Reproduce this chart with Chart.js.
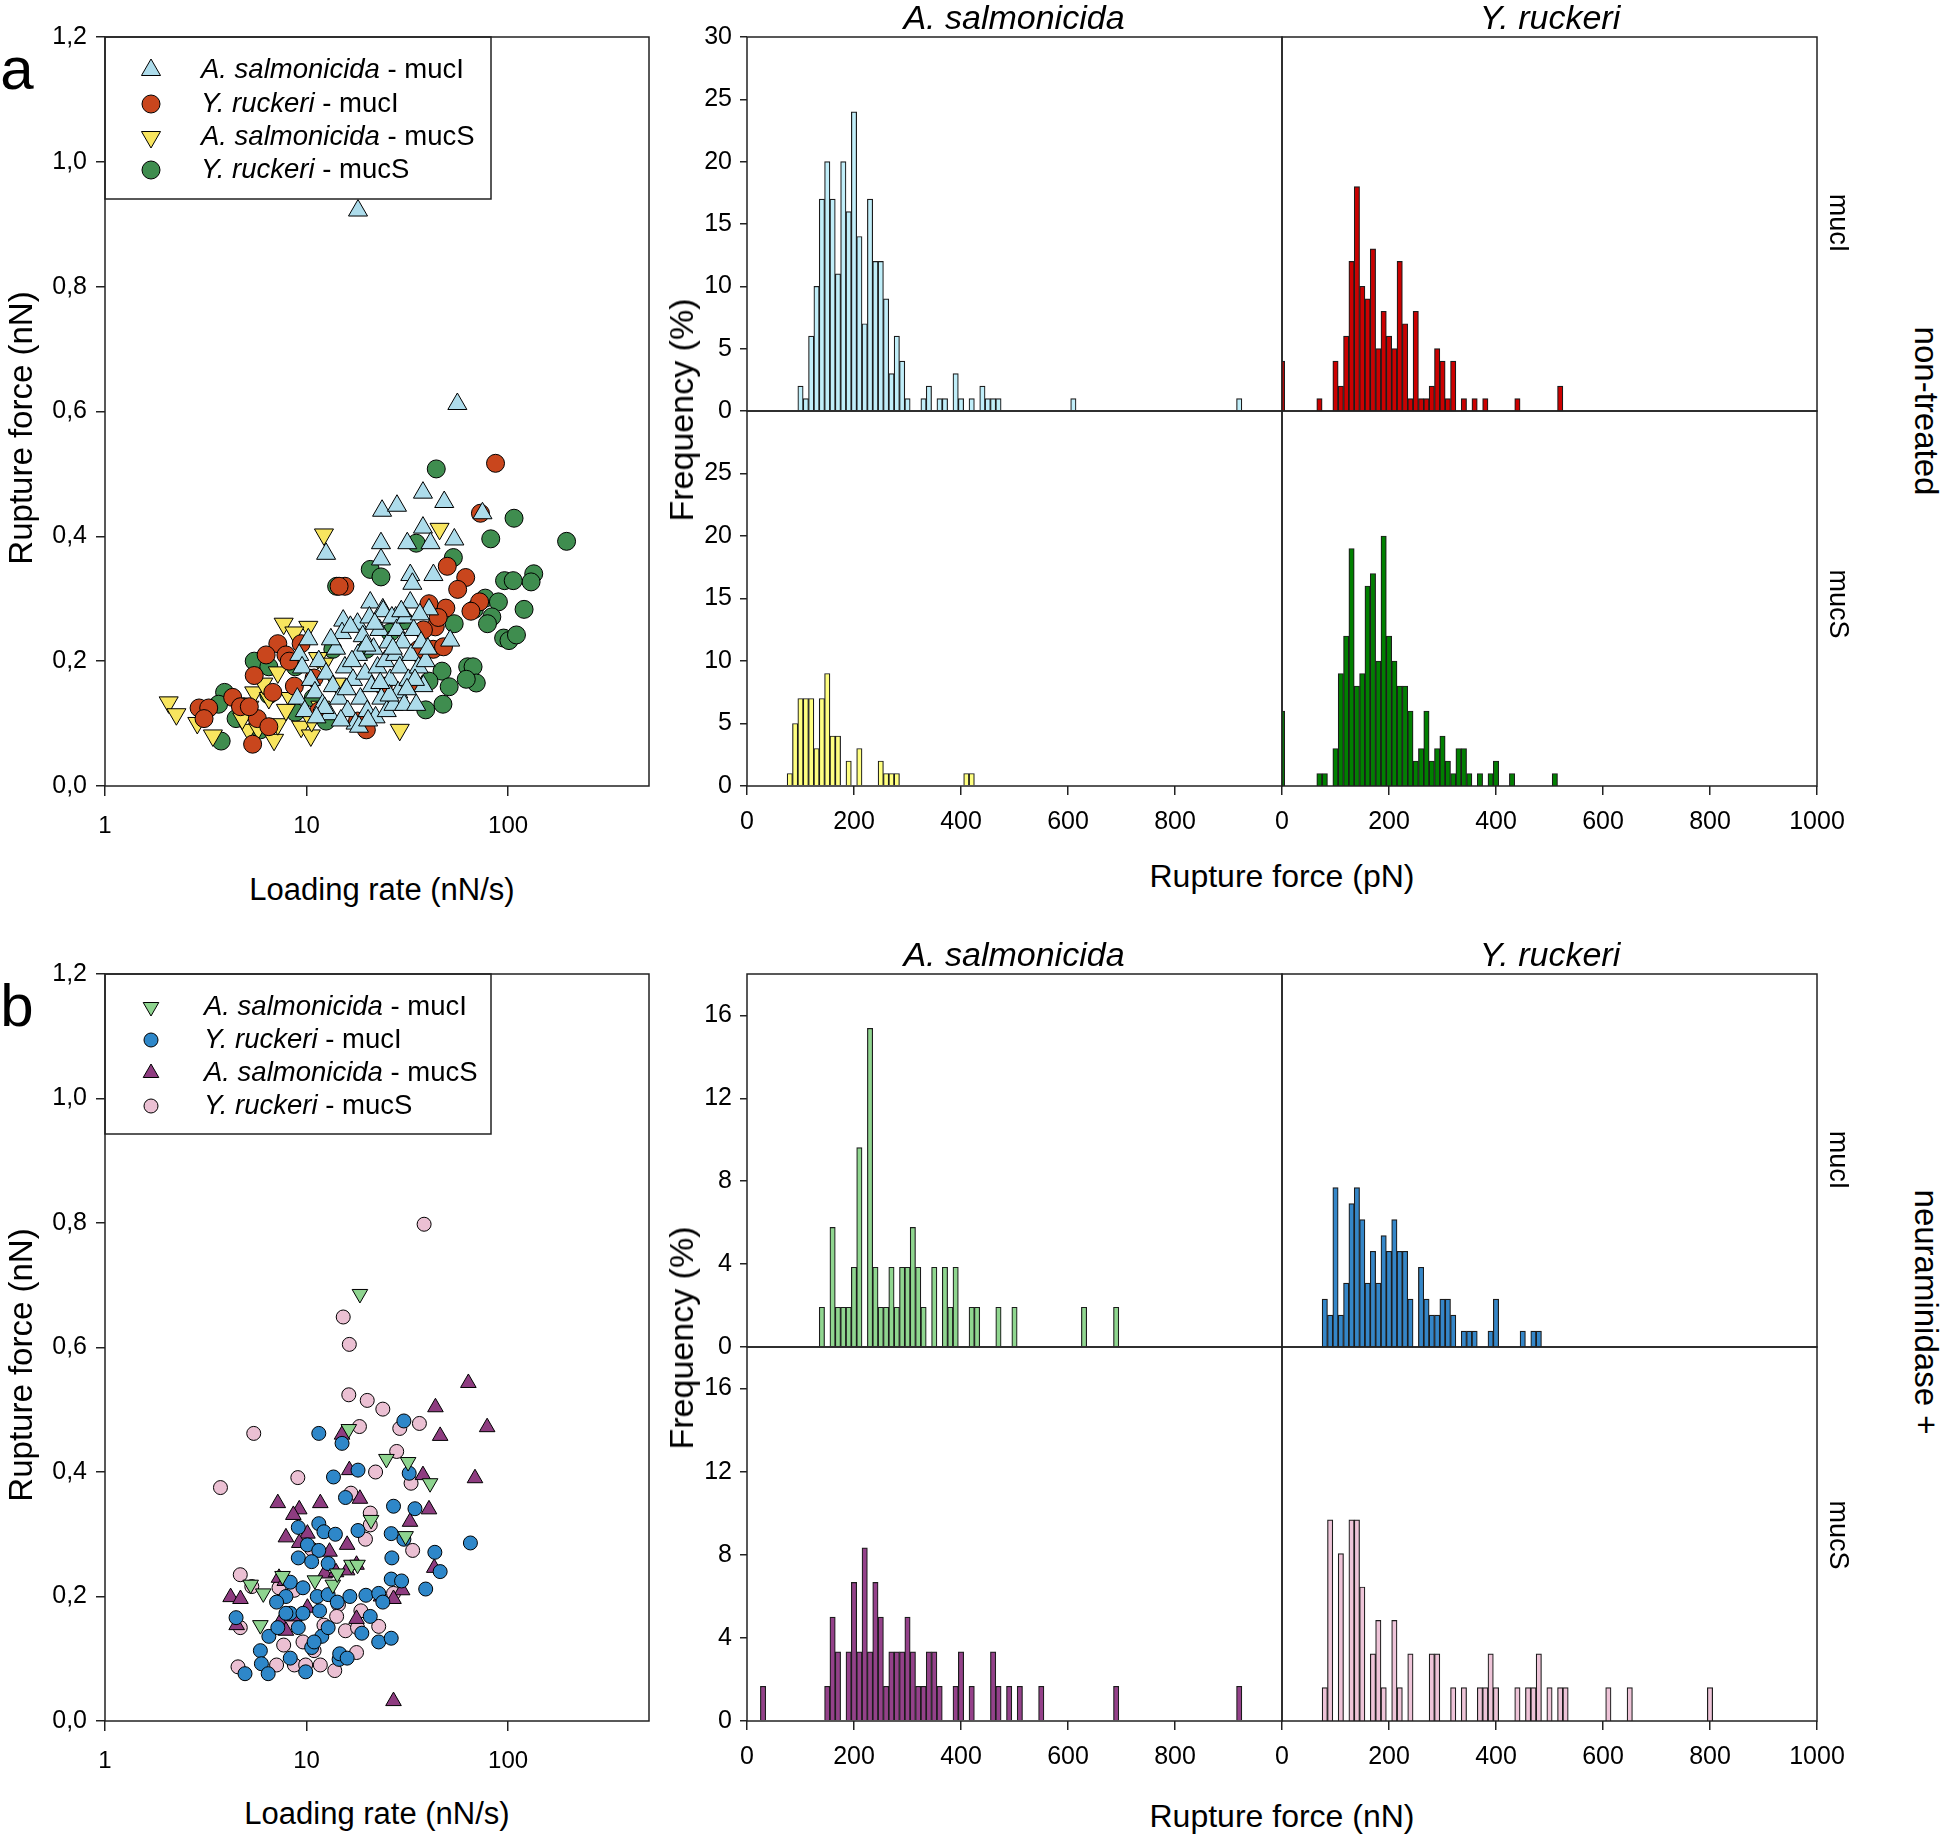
<!DOCTYPE html>
<html>
<head>
<meta charset="utf-8">
<script src="https://cdn.jsdelivr.net/npm/chart.js@4.4.1/dist/chart.umd.min.js"></script>
<style>
html, body { margin: 0; padding: 0; background: #fff; }
#fig { position: relative; width: 1946px; height: 1835px; background: #fff; overflow: hidden;
       font-family: "Liberation Sans", Arial, sans-serif; color: #000; }
#fig canvas { position: absolute; }
.t { position: absolute; white-space: nowrap; line-height: 1; transform: translate(-50%, -50%); }
.up { transform: translate(-50%, -50%) rotate(-90deg); }
.down { transform: translate(-50%, -50%) rotate(90deg); }
</style>
</head>
<body>
<div id="fig"></div>
<script>
// ---- scatter data, panel a (loading rate nN/s, rupture force nN) ----
const scA_asMucI = [[18.0,0.922],[56,0.612],[37.8,0.47],[48.2,0.455],[23.7,0.441],[28.1,0.449],[74.6,0.437],[37.8,0.414],
  [54.1,0.395],[31.6,0.389],[41.2,0.389],[23.4,0.389],[12.5,0.372],[23.4,0.363],[32.7,0.338],[42.6,0.338],[33.5,0.324],
  [20.7,0.294],[32.7,0.294],[40.5,0.283],[15.2,0.265],[23.9,0.283],[17.9,0.26],[27.7,0.27],[51.6,0.233],
  [9.2,0.21],[9.5,0.19],[9.0,0.14],[9.8,0.12],[10.5,0.17],[11,0.15],[11.5,0.2],[12,0.13],[12.5,0.18],[13,0.115],
  [13.5,0.16],[14,0.22],[14.5,0.14],[15,0.245],[15.5,0.19],[16,0.12],[16.5,0.255],[17,0.17],[17.5,0.1],[18,0.21],
  [18.5,0.14],[19,0.24],[19.5,0.18],[20,0.12],[20.5,0.27],[21,0.16],[21.5,0.22],[22,0.11],[22.5,0.19],[23,0.25],
  [23.5,0.14],[24,0.28],[24.5,0.2],[25,0.12],[25.5,0.23],[26,0.17],[26.5,0.27],[27,0.13],[27.5,0.21],[28,0.25],
  [28.5,0.15],[29,0.19],[30,0.23],[30.5,0.13],[31,0.27],[32,0.17],[33,0.21],[34,0.25],[35,0.13],[36,0.19],[37,0.23],
  [38,0.16],[39,0.2],[40,0.22],[18.2,0.095],[14.8,0.105],[12.3,0.125],[11.2,0.11],[16.8,0.2],[19.8,0.225],[21.8,0.26],
  [25.8,0.145],[29.5,0.28],[34.5,0.17],[13.2,0.235],[15.8,0.155],[20.2,0.105],[23.2,0.165],[26.8,0.22],[31.5,0.155],
  [36.5,0.275],[10.2,0.235]];
const scA_yrMucI = [[86.6,0.517],[72.9,0.437],[49.9,0.352],[61.6,0.334],[56.2,0.315],[15.5,0.32],[72.2,0.295],[65.4,0.28],
  [49.1,0.285],[40.5,0.292],[43.5,0.255],[42.5,0.219],[47.8,0.223],[7.2,0.228],[7.9,0.21],[9.4,0.228],[6.3,0.21],
  [5.5,0.177],[4.3,0.142],[4.7,0.127],[2.93,0.125],[3.27,0.125],[3.1,0.108],[5.4,0.067],[5.7,0.108],[8.7,0.16],
  [10.9,0.173],[17.9,0.104],[19.8,0.09],[36,0.219],[33.5,0.164],[5.2,0.127],[6.5,0.095],[14.5,0.32],[38,0.25],
  [45,0.27],[8.2,0.2],[6.8,0.15],[11.5,0.12],[24,0.16]];
const scA_asMucS = [[12.2,0.403],[45.7,0.412],[7.7,0.26],[10.2,0.255],[8.7,0.246],[2.07,0.134],[2.26,0.115],[2.87,0.101],
  [3.43,0.081],[5.15,0.09],[5.75,0.092],[5.5,0.15],[6.9,0.074],[7.2,0.182],[7.2,0.099],[8.3,0.141],[6.5,0.141],
  [9.4,0.095],[10.5,0.081],[11.4,0.205],[10.6,0.104],[29,0.09],[14.1,0.164],[6.1,0.164],[5.2,0.127],[7.9,0.122],
  [12.2,0.196],[11.7,0.127],[4.8,0.108]];
const scA_yrMucS = [[44,0.508],[107,0.429],[195,0.392],[82,0.396],[35,0.389],[53.5,0.366],[20.7,0.347],[23.4,0.335],
  [14.1,0.32],[134,0.34],[130,0.327],[96,0.329],[106,0.329],[77,0.301],[89.5,0.295],[83,0.271],[79,0.26],[120,0.283],
  [95,0.237],[101,0.233],[110,0.242],[68,0.283],[54,0.26],[47,0.184],[63,0.191],[67,0.191],[69.5,0.165],[62,0.171],
  [51,0.159],[47.5,0.131],[39,0.122],[40.5,0.168],[3.92,0.15],[3.77,0.072],[3.66,0.131],[5.5,0.2],[6.5,0.191],
  [4.47,0.108],[5.9,0.09],[4.9,0.127],[8.8,0.118],[12.5,0.104],[6.5,0.146],[8.8,0.191],[13.5,0.219],[10.8,0.141],
  [30.5,0.265],[37,0.21],[26,0.246],[19.8,0.219]];

// ---- scatter data, panel b ----
const scB_asMucI = [[18.4,0.686],[16.2,0.469],[24.9,0.421],[31.9,0.416],[41,0.382],[20.9,0.323],[31,0.297],[5.28,0.219],
  [6.1,0.205],[5.9,0.154],[7.6,0.233],[11,0.226],[13.5,0.219],[16.7,0.251],[17.9,0.251],[14.2,0.237]];
const scB_yrMucI = [[11.5,0.462],[15,0.446],[30.4,0.482],[13.6,0.392],[18,0.403],[15.6,0.359],[18,0.306],[27,0.345],
  [34.5,0.341],[32.3,0.398],[65,0.286],[43.3,0.271],[46,0.24],[39,0.212],[26.3,0.301],[26.5,0.262],[30.4,0.292],
  [9.1,0.311],[11.5,0.317],[12.2,0.304],[13.9,0.3],[10.1,0.283],[11.5,0.274],[9.1,0.262],[10.6,0.256],[12.8,0.253],
  [8.3,0.223],[9.6,0.214],[11.3,0.2],[12.8,0.203],[7.9,0.2],[7.1,0.191],[8.3,0.173],[9.6,0.173],[11.6,0.177],
  [14.2,0.191],[16.4,0.2],[19.7,0.202],[22.8,0.205],[20.7,0.168],[23.9,0.191],[18.8,0.141],[22.8,0.127],[26.3,0.133],
  [26.3,0.228],[29.6,0.225],[4.47,0.166],[4.95,0.076],[5.9,0.113],[5.97,0.092],[6.45,0.076],[6.5,0.136],[8.3,0.101],
  [9.9,0.079],[10.6,0.118],[11.9,0.136],[12.8,0.15],[14.5,0.099],[14.6,0.108],[15.9,0.101],[9.1,0.15],[10.9,0.127],
  [7.9,0.173],[7.2,0.15]];
const scB_asMucS = [[63.5,0.543],[78.7,0.472],[43.6,0.504],[46,0.458],[15,0.46],[16.3,0.403],[37.8,0.395],[68.5,0.39],
  [40.5,0.34],[32.6,0.32],[18.4,0.357],[7.2,0.35],[9.2,0.34],[11.7,0.35],[8.6,0.331],[7.9,0.295],[10.1,0.301],
  [9.2,0.286],[13,0.272],[15.9,0.283],[12.3,0.237],[14,0.239],[15.9,0.242],[17.7,0.251],[43,0.246],[4.2,0.199],
  [4.7,0.196],[4.5,0.154],[7.3,0.23],[7.8,0.225],[7.4,0.159],[7.9,0.145],[8.7,0.168],[10.1,0.182],[17.7,0.164],
  [23.4,0.2],[29.8,0.21],[27,0.196],[27,0.032]];
const scB_yrMucS = [[38.3,0.798],[15.2,0.649],[16.3,0.605],[16.2,0.524],[20,0.515],[23.9,0.501],[18.3,0.473],[29,0.47],
  [36.3,0.478],[5.47,0.462],[28,0.433],[22,0.4],[3.74,0.375],[9.05,0.391],[16.6,0.366],[33,0.382],[20.7,0.334],
  [20.7,0.315],[19.6,0.292],[33.6,0.274],[10.6,0.276],[4.69,0.235],[5.35,0.216],[7.3,0.214],[4.69,0.15],[4.57,0.087],
  [7.1,0.09],[8.7,0.21],[7.7,0.122],[8.7,0.09],[9.9,0.09],[9.6,0.127],[10.9,0.113],[11.7,0.09],[13.8,0.081],
  [14.4,0.187],[14.1,0.168],[15.6,0.145],[17.9,0.15],[18.6,0.177],[17.7,0.11],[22.8,0.152],[27,0.205],[8.3,0.154],
  [12.2,0.154]];

// ---- histogram data (bin centre in pN, frequency %) ----
const hA_asMucI_bins = [100,110,120,130,140,150,160,170,180,190,200,210,220,230,240,250,260,270,280,290,300,330,340,360,370,390,400,420,440,450,460,470,610,920];
const hA_asMucI_freq = [2,1,6,10,17,20,17,11,20,16,24,14,7,17,12,12,9,3,6,4,1,1,2,1,1,3,1,1,2,1,1,1,1,1];
const hA_yrMucI_bins = [0,70,100,110,120,130,140,150,160,170,180,190,200,210,220,230,240,250,260,270,280,290,300,310,320,340,360,380,440,520];
const hA_yrMucI_freq = [4,1,4,2,6,12,18,10,9,13,5,8,6,5,12,7,1,8,1,1,2,5,4,1,4,1,1,1,1,2];
const hA_asMucS_bins = [80,90,100,110,120,130,140,150,160,170,190,210,250,260,270,280,410,420];
const hA_asMucS_freq = [1,5,7,7,7,3,7,9,4,4,2,3,2,1,1,1,1,1];
const hA_yrMucS_bins = [0,70,80,100,110,120,130,140,150,160,170,180,190,200,210,220,230,240,250,260,270,280,290,300,310,320,330,340,350,370,390,400,430,510];
const hA_yrMucS_freq = [6,1,1,3,9,12,19,8,9,16,17,10,20,12,10,8,8,6,2,3,6,2,3,4,2,1,3,3,1,1,1,2,1,1];

const hB_asMucI_bins = [140,160,170,180,190,200,210,230,240,250,260,270,280,290,300,310,320,330,350,370,380,390,420,430,470,500,630,690];
const hB_asMucI_freq = [1.92,5.77,1.92,1.92,1.92,3.85,9.62,15.38,3.85,1.92,1.92,3.85,1.92,3.85,3.85,5.77,3.85,1.92,3.85,3.85,1.92,3.85,1.92,1.92,1.92,1.92,1.92,1.92];
const hB_yrMucI_bins = [80,90,100,110,120,130,140,150,160,170,180,190,200,210,220,230,240,260,270,280,290,300,310,320,340,350,360,390,400,450,470,480];
const hB_yrMucI_freq = [2.31,1.54,7.69,1.54,3.08,6.92,7.69,6.15,3.08,4.62,3.08,5.38,4.62,6.15,4.62,4.62,2.31,3.85,2.31,1.54,1.54,2.31,2.31,1.54,0.77,0.77,0.77,0.77,2.31,0.77,0.77,0.77];
const hB_asMucS_bins = [30,150,160,170,190,200,210,220,230,240,250,260,270,280,290,300,310,320,330,340,350,360,390,400,420,460,470,490,510,550,690,920];
const hB_asMucS_freq = [1.67,1.67,5,3.33,3.33,6.67,3.33,8.33,3.33,6.67,5,1.67,3.33,3.33,3.33,5,3.33,1.67,1.67,3.33,3.33,1.67,1.67,3.33,1.67,3.33,1.67,1.67,1.67,1.67,1.67,1.67];
const hB_yrMucS_bins = [80,90,110,130,140,150,170,180,190,210,220,240,280,290,320,340,370,380,390,400,440,460,470,480,500,520,530,610,650,800];
const hB_yrMucS_freq = [1.61,9.68,8.06,9.68,9.68,6.45,3.23,4.84,1.61,4.84,1.61,3.23,3.23,3.23,1.61,1.61,1.61,1.61,3.23,1.61,1.61,1.61,1.61,3.23,1.61,1.61,1.61,1.61,1.61,1.61];

// ---- tick labels ----
const scatterXTicks = [1, 10, 100];
const scatterYTicks = [0, 0.2, 0.4, 0.6, 0.8, 1.0, 1.2];
const histXTicksLeft = [0, 200, 400, 600, 800];
const histXTicksRight = [0, 200, 400, 600, 800, 1000];
const histYTicksA_top = [0, 5, 10, 15, 20, 25, 30];
const histYTicksA_bottom = [0, 5, 10, 15, 20, 25];
const histYTicksB = [0, 4, 8, 12, 16];

const FONT = '"Liberation Sans", Arial, sans-serif';
Chart.defaults.font.family = FONT;
Chart.defaults.color = '#000';

const fig = document.getElementById('fig');

// box around the plot area, drawn on top of the data
const framePlugin = {
    id: 'frame',
    afterDraw(chart) {
        const { ctx, chartArea: a } = chart;
        ctx.save();
        ctx.strokeStyle = '#222';
        ctx.lineWidth = 1.5;
        ctx.strokeRect(a.left, a.top, a.right - a.left, a.bottom - a.top);
        ctx.restore();
    }
};

// legend drawn inside the top-left corner of the scatter plot
const boxLegend = {
    id: 'boxLegend',
    afterDatasetsDraw(chart, args, opts) {
        const { ctx, chartArea: a } = chart;
        ctx.save();
        ctx.fillStyle = '#fff';
        ctx.fillRect(a.left, a.top, opts.w, opts.h);
        ctx.lineWidth = 1.5;
        ctx.strokeStyle = '#222';
        ctx.strokeRect(a.left, a.top, opts.w, opts.h);
        ctx.textBaseline = 'middle';
        chart.data.datasets.forEach((ds, i) => {
            const y = a.top + opts.rows[i];
            ctx.fillStyle = ds.backgroundColor;
            ctx.strokeStyle = '#000';
            ctx.lineWidth = 1;
            Chart.helpers.drawPoint(ctx, {
                pointStyle: ds.pointStyle, rotation: ds.rotation || 0,
                radius: ds.pointRadius, borderWidth: 1
            }, a.left + opts.markerX, y);
            const parts = ds.label.split(' - ');
            ctx.fillStyle = '#000';
            ctx.font = 'italic ' + opts.size + 'px ' + FONT;
            ctx.fillText(parts[0], a.left + opts.textX, y);
            const w = ctx.measureText(parts[0]).width;
            ctx.font = opts.size + 'px ' + FONT;
            ctx.fillText(' - ' + parts[1], a.left + opts.textX + w, y);
        });
        ctx.restore();
    }
};

function addCanvas(box, m) {
    const c = document.createElement('canvas');
    c.width = box.r - box.l + m.l + m.r;
    c.height = box.b - box.t + m.t + m.b;
    c.style.left = (box.l - m.l) + 'px';
    c.style.top = (box.t - m.t) + 'px';
    fig.appendChild(c);
    return c;
}

function scatterChart(box, datasets, legend) {
    const m = { l: 100, r: 30, t: 24, b: 70 };
    const canvas = addCanvas(box, m);
    return new Chart(canvas, {
        type: 'scatter',
        data: { datasets: datasets },
        options: {
            responsive: false,
            animation: false,
            devicePixelRatio: 1,
            layout: { padding: { left: 0, top: m.t, right: m.r, bottom: 0 } },
            plugins: { legend: { display: false }, tooltip: { enabled: false }, boxLegend: legend },
            scales: {
                x: {
                    type: 'logarithmic', min: 1, max: 500,
                    grid: { drawOnChartArea: false, tickLength: 10, color: '#222', lineWidth: 1.5 },
                    border: { display: false },
                    ticks: { maxRotation: 0, autoSkip: false, padding: 16, font: { size: 24 }, callback: v => String(v) },
                    afterBuildTicks: s => { s.ticks = scatterXTicks.map(v => ({ value: v })); },
                    afterFit: s => { s.height = m.b; }
                },
                y: {
                    min: 0, max: 1.2,
                    grid: { drawOnChartArea: false, tickLength: 9, color: '#222', lineWidth: 1.5 },
                    border: { display: false },
                    ticks: { padding: 9, font: { size: 25 }, callback: v => v.toFixed(1).replace('.', ',') },
                    afterBuildTicks: s => { s.ticks = scatterYTicks.map(v => ({ value: v })); },
                    afterFit: s => { s.width = m.l; }
                }
            }
        },
        plugins: [boxLegend, framePlugin]
    });
}

function pts(list) {
    return list.map(p => ({ x: p[0], y: p[1] }));
}

function series(label, list, color, style, rotation, radius) {
    return {
        label: label, data: pts(list), backgroundColor: color, borderColor: '#000', borderWidth: 1,
        pointStyle: style, rotation: rotation, pointRadius: radius, pointHoverRadius: radius
    };
}

function histChart(box, bins, freq, color, o) {
    const m = { l: 80, r: 40, t: 24, b: 60 };
    const canvas = addCanvas(box, m);
    const hasX = !!o.xTicks;
    const hasY = !!o.yTicks;
    return new Chart(canvas, {
        type: 'bar',
        data: {
            datasets: [{
                data: bins.map((b, i) => ({ x: b, y: freq[i] })),
                backgroundColor: color,
                borderColor: '#1c1c1c',
                borderWidth: 1.2,
                barPercentage: 1,
                categoryPercentage: 1,
                clip: 0
            }]
        },
        options: {
            responsive: false,
            animation: false,
            devicePixelRatio: 1,
            layout: { padding: { left: 0, top: m.t, right: m.r, bottom: 0 } },
            plugins: { legend: { display: false }, tooltip: { enabled: false } },
            scales: {
                x: {
                    type: 'linear', min: 0, max: 1000, offset: false,
                    grid: { display: hasX, drawOnChartArea: false, offset: false, tickLength: 9, color: '#222', lineWidth: 1.5 },
                    border: { display: false },
                    ticks: { display: hasX, maxRotation: 0, autoSkip: false, padding: 12, font: { size: 25 }, callback: v => String(v) },
                    afterBuildTicks: s => { s.ticks = (o.xTicks || [0, 1000]).map(v => ({ value: v })); },
                    afterFit: s => { s.height = m.b; }
                },
                y: {
                    min: 0, max: o.yMax,
                    grid: { display: hasY, drawOnChartArea: false, tickLength: 7, color: '#222', lineWidth: 1.5 },
                    border: { display: false },
                    ticks: { display: hasY, padding: 8, font: { size: 25 }, callback: v => String(v) },
                    afterBuildTicks: s => { s.ticks = (o.yTicks || [0]).map(v => ({ value: v })); },
                    afterFit: s => { s.width = m.l; }
                }
            }
        },
        plugins: [framePlugin]
    });
}

// ---- panel a ----
scatterChart({ l: 105, t: 37, r: 649, b: 786 }, [
    series('A. salmonicida - mucI', scA_asMucI, '#ADDCEB', 'triangle', 0, 11),
    series('Y. ruckeri - mucI', scA_yrMucI, '#C9461D', 'circle', 0, 9),
    series('A. salmonicida - mucS', scA_asMucS, '#F8E55F', 'triangle', 180, 11),
    series('Y. ruckeri - mucS', scA_yrMucS, '#3F8D4F', 'circle', 0, 9)
], { w: 386, h: 162, rows: [33, 67, 100, 133], markerX: 46, textX: 96, size: 27.5 });

histChart({ l: 747, t: 37, r: 1282, b: 411 }, hA_asMucI_bins, hA_asMucI_freq, '#C0EEF9', { yMax: 30, yTicks: histYTicksA_top });
histChart({ l: 1282, t: 37, r: 1817, b: 411 }, hA_yrMucI_bins, hA_yrMucI_freq, '#CC0000', { yMax: 30 });
histChart({ l: 747, t: 411, r: 1282, b: 786 }, hA_asMucS_bins, hA_asMucS_freq, '#FFFF80', { yMax: 30, yTicks: histYTicksA_bottom, xTicks: histXTicksLeft });
histChart({ l: 1282, t: 411, r: 1817, b: 786 }, hA_yrMucS_bins, hA_yrMucS_freq, '#008000', { yMax: 30, xTicks: histXTicksRight });

// ---- panel b ----
scatterChart({ l: 105, t: 974, r: 649, b: 1721 }, [
    series('A. salmonicida - mucI', scB_asMucI, '#8ED48F', 'triangle', 180, 9),
    series('Y. ruckeri - mucI', scB_yrMucI, '#2E87C9', 'circle', 0, 7),
    series('A. salmonicida - mucS', scB_asMucS, '#8E3C80', 'triangle', 0, 9),
    series('Y. ruckeri - mucS', scB_yrMucS, '#EBC0D3', 'circle', 0, 7)
], { w: 386, h: 160, rows: [33, 66, 99, 132], markerX: 46, textX: 99, size: 27.5 });

histChart({ l: 747, t: 974, r: 1282, b: 1347 }, hB_asMucI_bins, hB_asMucI_freq, '#8FD68F', { yMax: 18, yTicks: histYTicksB });
histChart({ l: 1282, t: 974, r: 1817, b: 1347 }, hB_yrMucI_bins, hB_yrMucI_freq, '#3486C8', { yMax: 18 });
histChart({ l: 747, t: 1347, r: 1282, b: 1721 }, hB_asMucS_bins, hB_asMucS_freq, '#94418A', { yMax: 18, yTicks: histYTicksB, xTicks: histXTicksLeft });
histChart({ l: 1282, t: 1347, r: 1817, b: 1721 }, hB_yrMucS_bins, hB_yrMucS_freq, '#EEC4D8', { yMax: 18, xTicks: histXTicksRight });

// ---- text around the charts ----
const labels = [
    { s: 'a', x: 17, y: 69, size: 60 },
    { s: 'b', x: 17, y: 1006, size: 60 },
    { s: 'Rupture force (nN)', x: 20, y: 428, size: 33, cls: 'up' },
    { s: 'Rupture force (nN)', x: 20, y: 1365, size: 33, cls: 'up' },
    { s: 'Loading rate (nN/s)', x: 382, y: 889, size: 31 },
    { s: 'Loading rate (nN/s)', x: 377, y: 1813, size: 31 },
    { s: 'A. salmonicida', x: 1014, y: 17, size: 34, italic: true },
    { s: 'Y. ruckeri', x: 1550, y: 17, size: 34, italic: true },
    { s: 'A. salmonicida', x: 1014, y: 954, size: 34, italic: true },
    { s: 'Y. ruckeri', x: 1550, y: 954, size: 34, italic: true },
    { s: 'Frequency (%)', x: 681, y: 410, size: 34, cls: 'up' },
    { s: 'Frequency (%)', x: 681, y: 1338, size: 34, cls: 'up' },
    { s: 'Rupture force (pN)', x: 1282, y: 876, size: 32 },
    { s: 'Rupture force (nN)', x: 1282, y: 1816, size: 32 },
    { s: 'mucI', x: 1838, y: 223, size: 27, cls: 'down' },
    { s: 'mucS', x: 1838, y: 604, size: 27, cls: 'down' },
    { s: 'mucI', x: 1838, y: 1160, size: 27, cls: 'down' },
    { s: 'mucS', x: 1838, y: 1535, size: 27, cls: 'down' },
    { s: 'non-treated', x: 1926, y: 411, size: 33, cls: 'down' },
    { s: 'neuraminidase +', x: 1926, y: 1312, size: 33, cls: 'down' }
];

labels.forEach(l => {
    const d = document.createElement('div');
    d.className = 't' + (l.cls ? ' ' + l.cls : '');
    d.textContent = l.s;
    d.style.left = l.x + 'px';
    d.style.top = l.y + 'px';
    d.style.fontSize = l.size + 'px';
    if (l.italic) d.style.fontStyle = 'italic';
    fig.appendChild(d);
});
</script>
</body>
</html>
